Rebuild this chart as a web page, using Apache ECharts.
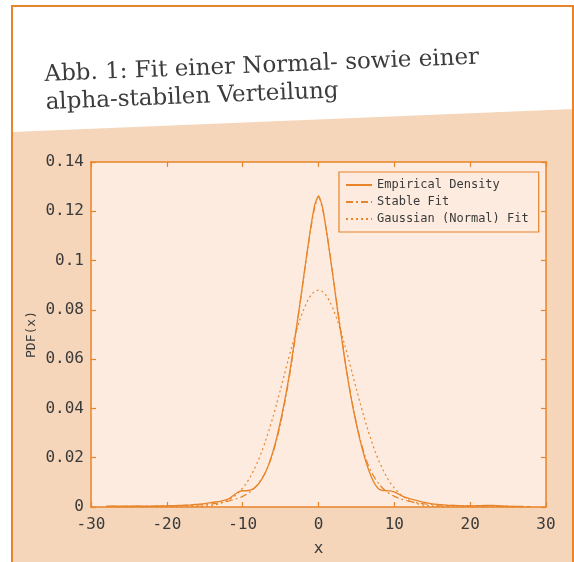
<!DOCTYPE html>
<html>
<head>
<meta charset="utf-8">
<script src="https://cdn.jsdelivr.net/npm/echarts@6/dist/echarts.min.js"></script>
<style>
html,body{margin:0;padding:0;background:#ffffff;}
#chart{width:574px;height:562px;}
</style>
</head>
<body>
<div id="chart"></div>
<script>
const titleLines = ['Abb. 1: Fit einer Normal- sowie einer', 'alpha-stabilen Verteilung'];
const seriesNames = ['Empirical Density', 'Stable Fit', 'Gaussian (Normal) Fit'];
const xTicks = [-30, -20, -10, 0, 10, 20, 30];
const yTicks = [0, 0.02, 0.04, 0.06, 0.08, 0.1, 0.12, 0.14];

const empX = [-28,-27,-26,-25,-24,-23,-22,-21,-20,-19,-18,-17,-16,-15,-14,-13,-12,-11.5,-11,-10.5,-10,-9.5,-9,-8.5,-8,-7.5,-7,-6.5,-6,-5.5,-5,-4.5,-4,-3.5,-3,-2.5,-2,-1.5,-1,-0.5,0,0.5,1,1.5,2,2.5,3,3.5,4,4.5,5,5.5,6,6.5,7,7.5,8,8.5,9,9.5,10,10.5,11,11.5,12,13,14,15,16,17,18,19,20,21,22,23,24,25,26,27];
const empY = [0.0003,0.0004,0.0003,0.0003,0.0004,0.0003,0.0003,0.0004,0.0004,0.0005,0.0007,0.0008,0.0011,0.0014,0.0019,0.0023,0.0031,0.0040,0.0052,0.0062,0.0066,0.0066,0.0068,0.0076,0.0090,0.0112,0.0140,0.0178,0.0225,0.0282,0.0350,0.0425,0.0510,0.0605,0.0710,0.0815,0.0925,0.1035,0.1140,0.1225,0.1262,0.1220,0.1130,0.1025,0.0915,0.0800,0.0695,0.0590,0.0495,0.0410,0.0335,0.0268,0.0210,0.0160,0.0120,0.0090,0.0072,0.0067,0.0066,0.0065,0.0061,0.0053,0.0045,0.0039,0.0034,0.0026,0.0019,0.0013,0.0010,0.0007,0.0006,0.0005,0.0004,0.0005,0.0007,0.0007,0.0004,0.0003,0.0002,0.0002];

const stbX = [-28,-26,-24,-22,-20,-18,-16,-15,-14,-13,-12,-11,-10,-9,-8,-7,-6.5,-6,-5.5,-5,-4.5,-4,-3.5,-3,-2.5,-2,-1.5,-1,-0.5,0,0.5,1,1.5,2,2.5,3,3.5,4,4.5,5,5.5,6,6.5,7,8,9,10,11,12,13,14,15,16,18,20,22,24,26,28];
const stbY = [0.0002,0.0002,0.0003,0.0003,0.0004,0.0006,0.0008,0.0010,0.0013,0.0017,0.0023,0.0031,0.0043,0.0062,0.0092,0.0140,0.0175,0.0220,0.0275,0.0340,0.0415,0.0500,0.0595,0.0700,0.0810,0.0920,0.1030,0.1130,0.1215,0.1258,0.1215,0.1130,0.1030,0.0920,0.0810,0.0700,0.0595,0.0500,0.0415,0.0340,0.0275,0.0220,0.0175,0.0140,0.0092,0.0062,0.0043,0.0031,0.0023,0.0017,0.0013,0.0010,0.0008,0.0006,0.0004,0.0003,0.0003,0.0002,0.0002];

const gauX = [-28,-24,-20,-18,-16,-15,-14,-13,-12,-11.5,-11,-10.5,-10,-9.5,-9,-8.5,-8,-7.5,-7,-6.5,-6,-5.5,-5,-4.5,-4,-3.5,-3,-2.5,-2,-1.5,-1,-0.5,0,0.5,1,1.5,2,2.5,3,3.5,4,4.5,5,5.5,6,6.5,7,7.5,8,8.5,9,9.5,10,10.5,11,11.5,12,13,14,15,16,18,20,24,28];
const gauY = [0,0,0,0,0.0002,0.0004,0.0007,0.0014,0.0026,0.0035,0.0046,0.0060,0.0077,0.0097,0.0122,0.0151,0.0185,0.0223,0.0267,0.0314,0.0366,0.0421,0.0478,0.0537,0.0596,0.0653,0.0707,0.0756,0.0798,0.0833,0.0859,0.0875,0.0880,0.0875,0.0859,0.0833,0.0798,0.0756,0.0707,0.0653,0.0596,0.0537,0.0478,0.0421,0.0366,0.0314,0.0267,0.0223,0.0185,0.0151,0.0122,0.0097,0.0077,0.0060,0.0046,0.0035,0.0026,0.0014,0.0007,0.0004,0.0002,0,0,0,0];

const ORANGE = '#E8842A';
const PEACH = '#F5D6BA';
const PLOTBG = '#FCEBDE';
const TXT = '#3a3a3a';
const MONO = '"DejaVu Sans Mono", monospace';

function pairs(xs, ys){ return xs.map((x,i)=>[x, ys[i]]); }

const chart = echarts.init(document.getElementById('chart'), null, {renderer:'canvas'});

function xAxisBase(pos, showLabel){
  return {
    type:'value', position:pos, min:xTicks[0], max:xTicks[xTicks.length-1], interval:10,
    axisLine:{show:true, onZero:false, lineStyle:{color:ORANGE, width:1.5}},
    axisTick:{show:true, inside:true, length:5, lineStyle:{color:ORANGE, width:1.2}},
    axisLabel:{show:showLabel, color:TXT, fontFamily:MONO, fontSize:16, margin:10},
    splitLine:{show:false}
  };
}
function yAxisBase(pos, showLabel){
  return {
    type:'value', position:pos, min:yTicks[0], max:yTicks[yTicks.length-1], interval:0.02,
    axisLine:{show:true, onZero:false, lineStyle:{color:ORANGE, width:1.5}},
    axisTick:{show:true, inside:true, length:5, lineStyle:{color:ORANGE, width:1.2}},
    axisLabel:{show:showLabel, color:TXT, fontFamily:MONO, fontSize:16, margin:7},
    splitLine:{show:false}
  };
}

const xa = xAxisBase('bottom', true);
xa.name = 'x'; xa.nameLocation = 'middle'; xa.nameGap = 34;
xa.nameTextStyle = {color:TXT, fontFamily:MONO, fontSize:16};
const ya = yAxisBase('left', true);
ya.name = 'PDF(x)'; ya.nameLocation = 'middle'; ya.nameGap = 53; ya.nameMoveOverlap = false;
ya.nameTextStyle = {color:TXT, fontFamily:MONO, fontSize:13};

const option = {
  animation:false,
  backgroundColor:'transparent',
  graphic:[
    {type:'polygon', z:-10, silent:true, shape:{points:[[12,132],[574,109],[574,562],[12,562]]}, style:{fill:PEACH}},
    {type:'line', z:-5, silent:true, shape:{x1:12, y1:6, x2:12, y2:562}, style:{stroke:ORANGE, lineWidth:2}},
    {type:'line', z:-5, silent:true, shape:{x1:11, y1:6, x2:574, y2:6}, style:{stroke:ORANGE, lineWidth:2}},
    {type:'line', z:-5, silent:true, shape:{x1:573, y1:6, x2:573, y2:562}, style:{stroke:ORANGE, lineWidth:2}},
    {type:'text', z:5, silent:true, x:44, y:61, rotation:0.04,
      style:{text:titleLines.join('\n'), fill:'#3c3c3c', font:'23px "DejaVu Serif", serif', lineHeight:28}}
  ],
  grid:{left:91, right:28, top:162, bottom:55, show:true, backgroundColor:PLOTBG, borderWidth:0},
  legend:{
    show:true, orient:'vertical', left:339, top:172,
    data:seriesNames,
    backgroundColor:PLOTBG, borderColor:ORANGE, borderWidth:1.2, borderRadius:0,
    padding:[7,10,7,6], itemGap:5, itemWidth:26, itemHeight:12,
    itemStyle:{opacity:0},
    textStyle:{color:TXT, fontFamily:MONO, fontSize:12}
  },
  xAxis:[xa, xAxisBase('top', false)],
  yAxis:[ya, yAxisBase('right', false)],
  series:[
    {name:seriesNames[0], type:'line', data:pairs(empX, empY), showSymbol:false, symbol:'none', smooth:0.2,
      lineStyle:{color:ORANGE, width:1.3, type:'solid'}, itemStyle:{color:ORANGE}, z:4},
    {name:seriesNames[1], type:'line', data:pairs(stbX, stbY), showSymbol:false, symbol:'none', smooth:0.3,
      lineStyle:{color:ORANGE, width:1.2, type:[7,3,2,3]}, itemStyle:{color:ORANGE}, z:3},
    {name:seriesNames[2], type:'line', data:pairs(gauX, gauY), showSymbol:false, symbol:'none', smooth:0.3,
      lineStyle:{color:ORANGE, width:1.2, type:[2,3]}, itemStyle:{color:ORANGE}, z:3}
  ]
};
chart.setOption(option);
</script>
</body>
</html>
